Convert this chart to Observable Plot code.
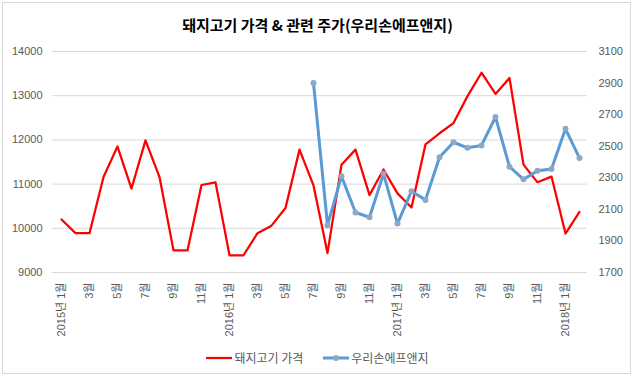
<!DOCTYPE html>
<html>
<head>
<meta charset="utf-8">
<script src="https://cdn.jsdelivr.net/npm/d3@7"></script>
<script src="https://cdn.jsdelivr.net/npm/@observablehq/plot@0.6"></script>
<style>
  html, body { margin: 0; padding: 0; background: #fff; }
  #chart { position: relative; width: 635px; height: 378px; overflow: hidden; background: #fff; }
  #frame { position: absolute; left: 2px; top: 2px; width: 629px; height: 372px; border: 1px solid #d9d9d9; box-sizing: border-box; }
  #title { position: absolute; left: 0; top: 14px; width: 635px; text-align: center; font: bold 15px "Noto Sans CJK KR", sans-serif; color: #000; line-height: 22px; }
  #plot { position: absolute; left: 0; top: 40px; }
  #legend { position: absolute; left: 0; top: 348px; width: 635px; display: flex; justify-content: center; gap: 20px; font: 12px "Noto Sans CJK KR", sans-serif; color: #595959; line-height: 20px; }
  .item { display: flex; align-items: center; gap: 2px; }
</style>
</head>
<body>
<div id="chart">
  <div id="frame"></div>
  <div id="title"></div>
  <div id="plot"></div>
  <div id="legend"></div>
</div>
<script>
const titleText = "돼지고기 가격 & 관련 주가(우리손에프앤지)";
const seriesNames = ["돼지고기 가격", "우리손에프앤지"];
const seriesColors = ["#ff0000", "#5b9bd5"];

const months = [
  "2015-01","2015-02","2015-03","2015-04","2015-05","2015-06","2015-07","2015-08","2015-09","2015-10","2015-11","2015-12",
  "2016-01","2016-02","2016-03","2016-04","2016-05","2016-06","2016-07","2016-08","2016-09","2016-10","2016-11","2016-12",
  "2017-01","2017-02","2017-03","2017-04","2017-05","2017-06","2017-07","2017-08","2017-09","2017-10","2017-11","2017-12",
  "2018-01","2018-02"
];
const tickLabels = [
  "2015년 1월","","3월","","5월","","7월","","9월","","11월","",
  "2016년 1월","","3월","","5월","","7월","","9월","","11월","",
  "2017년 1월","","3월","","5월","","7월","","9월","","11월","",
  "2018년 1월",""
];
const porkPrice = [
  10200, 9890, 9890, 11160, 11850, 10900, 11990, 11160, 9500, 9500, 10980, 11040,
  9390, 9390, 9890, 10060, 10460, 11780, 10970, 9440, 11440, 11780, 10750, 11330,
  10790, 10470, 11900, 12150, 12380, 12990, 13520, 13040, 13400, 11440, 11040, 11170,
  9880, 10370
];
const stockPrice = [
  null, null, null, null, null, null, null, null, null, null, null, null,
  null, null, null, null, null, null, 2900, 2000, 2310, 2080, 2050, 2325,
  2010, 2215, 2160, 2430, 2525, 2490, 2505, 2685, 2370, 2290, 2345, 2355,
  2610, 2425
];
const leftTicks = [9000, 10000, 11000, 12000, 13000, 14000];
const rightTicks = [1700, 1900, 2100, 2300, 2500, 2700, 2900, 3100];

const toLeft = d3.scaleLinear([1700, 3100], [9000, 14000]);
const labelOf = new Map(months.map((m, i) => [m, tickLabels[i]]));

const pork = months.map((m, i) => ({month: m, value: porkPrice[i]}));
const stock = months.map((m, i) => ({month: m, value: stockPrice[i]})).filter(d => d.value != null);

document.getElementById("title").textContent = titleText;

const chart = Plot.plot({
  width: 635,
  height: 300,
  marginTop: 11,
  marginBottom: 68,
  marginLeft: 52,
  marginRight: 48,
  style: {fontFamily: "'Liberation Sans', 'Noto Sans CJK KR', sans-serif", fontSize: "11px", color: "#595959", background: "transparent"},
  x: {type: "point", domain: months, padding: 0.5},
  y: {domain: [9000, 14000]},
  marks: [
    Plot.gridY(leftTicks.slice(1), {stroke: "#d9d9d9", strokeOpacity: 1}),
    Plot.ruleY([9000], {stroke: "#d9d9d9"}),
    Plot.axisY(leftTicks, {anchor: "left", tickSize: 0, tickPadding: 10, label: null, fill: "#595959",
      tickFormat: d => String(d)}),
    Plot.axisY(rightTicks.map(v => toLeft(v)), {anchor: "right", tickSize: 0, tickPadding: 11, label: null, fill: "#595959",
      tickFormat: d => String(Math.round(toLeft.invert(d)))}),
    Plot.axisX(months, {anchor: "bottom", tickSize: 0, tickPadding: 10, tickRotate: -90, label: null, fill: "#595959",
      tickFormat: d => labelOf.get(d)}),
    Plot.line(pork, {x: "month", y: "value", stroke: seriesColors[0], strokeWidth: 2.25}),
    Plot.line(stock, {x: "month", y: d => toLeft(d.value), stroke: seriesColors[1], strokeWidth: 3}),
    Plot.dot(stock, {x: "month", y: d => toLeft(d.value), r: 3, fill: "#8da9c4", stroke: null})
  ]
});
document.getElementById("plot").appendChild(chart);

const legend = document.getElementById("legend");
seriesNames.forEach((name, i) => {
  const item = document.createElement("div");
  item.className = "item";
  const sw = i === 0
    ? `<svg width="26" height="10"><line x1="0" y1="5" x2="26" y2="5" stroke="${seriesColors[0]}" stroke-width="2.25"/></svg>`
    : `<svg width="26" height="10"><line x1="0" y1="5" x2="26" y2="5" stroke="${seriesColors[1]}" stroke-width="3"/><circle cx="13" cy="5" r="3" fill="#8da9c4"/></svg>`;
  item.innerHTML = sw + `<span>${name}</span>`;
  legend.appendChild(item);
});
</script>
</body>
</html>
